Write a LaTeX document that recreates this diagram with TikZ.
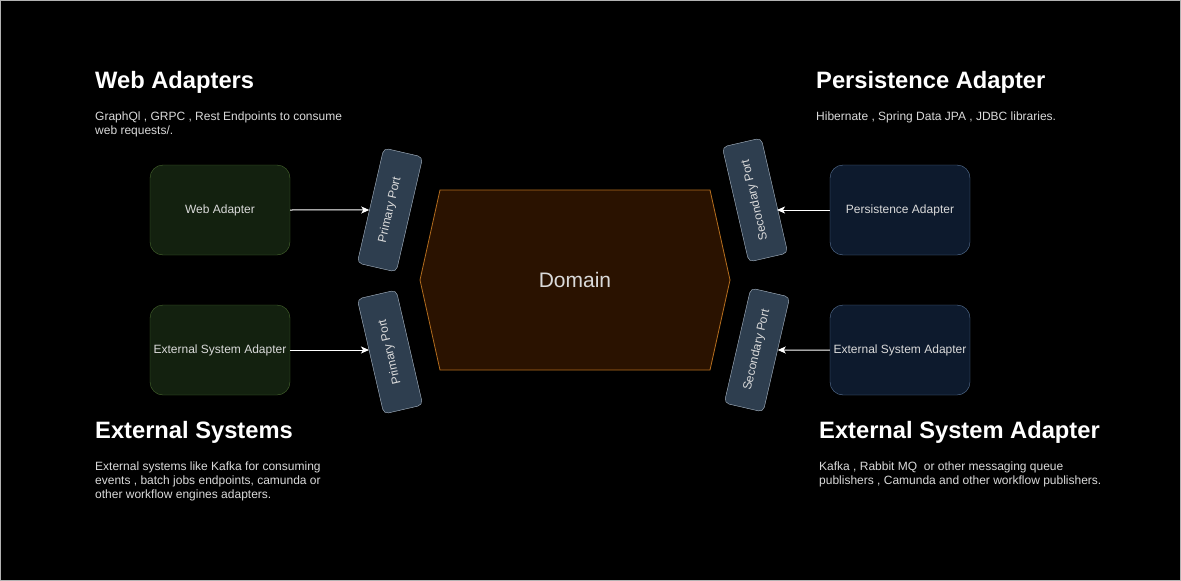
\documentclass[tikz,border=0pt]{standalone}
\usepackage{fontspec}
\setmainfont{Liberation Sans}
\usepackage{tikz}
\usepackage{xcolor}
\usetikzlibrary{arrows.meta}

\definecolor{webfill}{HTML}{13210F}
\definecolor{webline}{HTML}{48692F}
\definecolor{persfill}{HTML}{0D1A2D}
\definecolor{persline}{HTML}{5B769A}
\definecolor{portfill}{HTML}{2E3E4F}
\definecolor{portline}{HTML}{AEBCCB}
\definecolor{domfill}{HTML}{2A1200}
\definecolor{domline}{HTML}{B56E1E}
\definecolor{desctext}{HTML}{DADADA}

\tikzset{
  adapter/.style={rounded corners=13pt,minimum width=140pt,minimum height=90pt,
    text=desctext,font=\fontsize{12}{14}\selectfont,inner sep=1pt},
  webbox/.style={adapter,draw=webline,fill=webfill},
  persbox/.style={adapter,draw=persline,fill=persfill},
  port/.style={draw=portline,fill=portfill,rounded corners=5pt,minimum width=118pt,
    minimum height=40pt,text=desctext,font=\fontsize{12}{14}\selectfont},
  heading/.style={anchor=base west,inner sep=0pt,text=white,font=\fontsize{23.7}{28}\bfseries\selectfont},
  desc/.style={anchor=north west,inner sep=0pt,align=left,text=desctext,font=\fontsize{12}{14}\selectfont},
  arr/.style={draw=white,line width=1pt,-{Stealth[length=8pt,width=7pt,inset=2pt]}}
}

\begin{document}
\begin{tikzpicture}[x=1pt,y=-1pt]
  \fill[black] (0,0) rectangle (1181,581);
  \draw[gray!60,line width=0.5pt] (0.3,0.3) rectangle (1180.7,580.7);

  \filldraw[draw=domline,fill=domfill,line width=0.8pt] (420,280) -- (440,190) -- (710,190) -- (730,280) -- (710,370) -- (440,370) -- cycle;
  \node[text=desctext,font=\fontsize{21}{25}\selectfont] (domain) at (575,280) {Domain};

  \node[webbox] (web) at (220,210) {Web Adapter};
  \node[webbox] (extl) at (220,350) {External System Adapter};
  \node[persbox] (pers) at (900,210) {Persistence Adapter};
  \node[persbox] (extr) at (900,350) {External System Adapter};

  \node[port,rotate=77] (pp1) at (390,210) {Primary Port};
  \node[port,rotate=103] (pp2) at (390,352) {Primary Port};
  \node[port,rotate=103] (sp1) at (755,200) {Secondary Port};
  \node[port,rotate=77] (sp2) at (757,350) {Secondary Port};

  \draw[arr] (web) -- (pp1);
  \draw[arr,shorten >=21pt] (extl.east) -- (extl.east -| pp2.center);
  \draw[arr,shorten >=22pt] (pers.west) -- (pers.west -| sp1.center);
  \draw[arr] (extr) -- (sp2);

  \node[heading] (h1) at (95,88) {Web Adapters};
  \node[desc] (d1) at (95,112) {GraphQl , GRPC , Rest Endpoints to consume\\web requests/.};
  \node[heading] (h2) at (816,88) {Persistence Adapter};
  \node[desc] (d2) at (816,112) {Hibernate , Spring Data JPA , JDBC libraries.};
  \node[heading] (h3) at (95,438) {External Systems};
  \node[desc] (d3) at (95,462) {External systems like Kafka for consuming\\events , batch jobs endpoints, camunda or\\other workflow engines adapters.};
  \node[heading] (h4) at (819,438) {External System Adapter};
  \node[desc] (d4) at (819,462) {Kafka , Rabbit MQ\ \ or other messaging queue\\publishers , Camunda and other workflow publishers.};
\end{tikzpicture}
\end{document}
